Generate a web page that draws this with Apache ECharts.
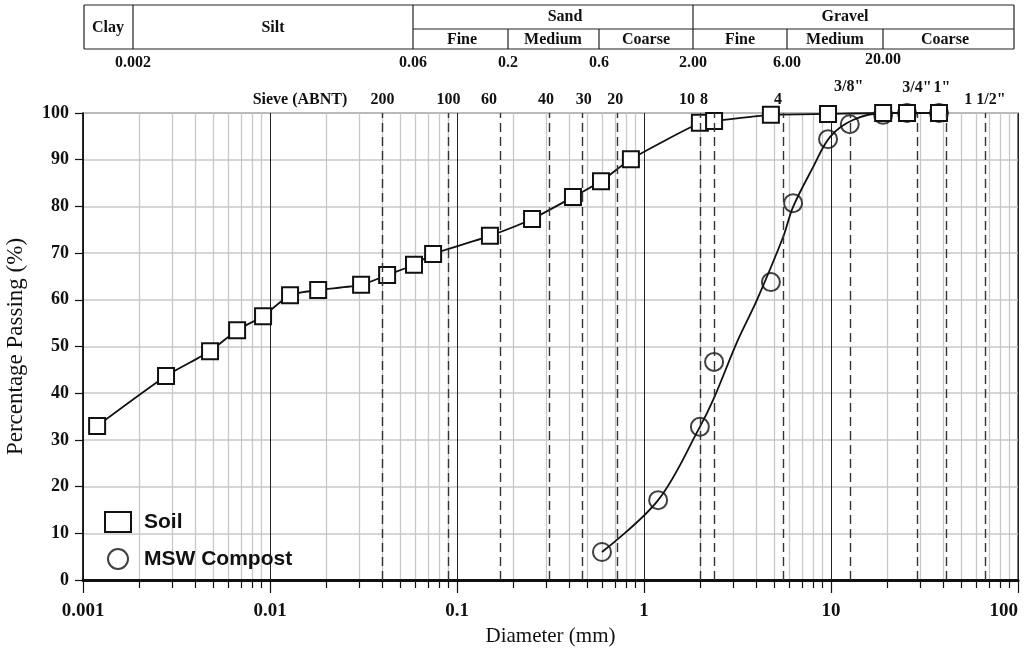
<!DOCTYPE html>
<html>
<head>
<meta charset="utf-8">
<script src="https://cdn.jsdelivr.net/npm/echarts@6/dist/echarts.min.js"></script>
<style>
  html, body { margin: 0; padding: 0; background: #fff; }
  #chart { width: 1030px; height: 654px; }
</style>
</head>
<body>
<div id="chart"></div>
<script>
// soil grain size curve
var soilSize = [0.00119, 0.00278, 0.00478, 0.00667, 0.00918, 0.0128, 0.0181, 0.0307, 0.0423, 0.0589, 0.0745,
    0.150, 0.252, 0.417, 0.589, 0.851, 1.99, 2.37, 4.77, 9.64, 19.0, 25.5, 37.8];
var soilPassing = [33.0, 43.7, 49.0, 53.5, 56.5, 61.0, 62.1, 63.2, 65.3, 67.5, 69.8,
    73.7, 77.3, 82.0, 85.4, 90.1, 97.9, 98.3, 99.6, 99.8, 100, 100, 100];

// compost measured points
var compostSize = [0.596, 1.19, 1.99, 2.37, 4.77, 6.27, 9.64, 12.6, 19.0, 25.5, 37.8];
var compostPassing = [6.0, 17.1, 32.8, 46.7, 63.8, 80.7, 94.4, 97.6, 99.6, 100, 100];

// compost fitted curve
var fitSize = [0.596, 1.19, 1.99, 2.34, 3.18, 4.02, 5.54, 6.27, 8.02, 9.89, 13.1, 19.0, 37.8];
var fitPassing = [6.0, 17.1, 32.8, 38.5, 51.4, 60.0, 73.4, 79.9, 88.4, 94.9, 98.5, 100, 100];

// sieve lines
var sieveLabels = ['200', '100', '60', '40', '30', '20', '10', '8', '4', '3/8"', '3/4"', '1"', '1 1/2"'];
var sieveSizes = [0.0383, 0.0906, 0.1655, 0.310, 0.466, 0.718, 1.99, 2.37, 5.54, 12.6, 28.8, 41.2, 66.6];
var sieveLabelOffsets = [[0, 0], [0, 0], [-11, 0], [-3, 0], [1, 0], [-2, 0], [-13, 0], [-10, 0], [-5, 0],
    [-1, -13], [0, -12], [-4, -12], [0, 0]];

var xTickLabels = ['0.001', '0.01', '0.1', '1', '10', '100'];
var yTicks = [0, 10, 20, 30, 40, 50, 60, 70, 80, 90, 100];

// classification table
var tableBounds = ['0.002', '0.06', '0.2', '0.6', '2.00', '6.00', '20.00'];
var tableBoundX = [133, 413, 508, 599, 693, 787, 883];

var SERIF = '"Liberation Serif", "Times New Roman", serif';
var SANS = '"Liberation Sans", Arial, sans-serif';

function zip(a, b) {
    return a.map(function (v, i) { return [v, b[i]]; });
}

var minorTicks = [];
[0.001, 0.01, 0.1, 1, 10].forEach(function (d) {
    for (var k = 2; k <= 9; k++) minorTicks.push(+(d * k).toPrecision(3));
});

var graphics = [];
function gline(x1, y1, x2, y2) {
    graphics.push({ type: 'line', silent: true, shape: { x1: x1, y1: y1, x2: x2, y2: y2 },
        style: { stroke: '#222', lineWidth: 1.2 } });
}
function gtext(t, x, y, size) {
    graphics.push({ type: 'text', silent: true, x: x, y: y,
        style: { text: t, fontFamily: SERIF, fontWeight: 'bold', fontSize: size || 16, fill: '#111',
            align: 'center', verticalAlign: 'middle' } });
}
gline(84, 5, 1014, 5);
gline(84, 49, 1014, 49);
gline(84, 5, 84, 49);
gline(1014, 5, 1014, 49);
gline(133, 5, 133, 49);
gline(413, 5, 413, 49);
gline(693, 5, 693, 49);
gline(413, 29, 1014, 29);
[508, 599, 787, 883].forEach(function (x) { gline(x, 29, x, 49); });
gtext('Clay', 108, 28);
gtext('Silt', 273, 28);
gtext('Sand', 565, 17);
gtext('Gravel', 845, 17);
gtext('Fine', 462, 40);
gtext('Medium', 553, 40);
gtext('Coarse', 646, 40);
gtext('Fine', 740, 40);
gtext('Medium', 835, 40);
gtext('Coarse', 945, 40);
tableBounds.forEach(function (t, i) {
    gtext(t, tableBoundX[i], i === 6 ? 60 : 63);
});
gtext('Sieve (ABNT)', 300, 100);

var myChart = echarts.init(document.getElementById('chart'));
var option = {
    backgroundColor: '#fff',
    animation: false,
    grid: {
        left: 83, right: 12, top: 113, bottom: 74, containLabel: false, outerBoundsMode: 'none',
        show: true, borderColor: '#222', borderWidth: 1.2
    },
    legend: {
        left: 99, top: 506, orient: 'vertical', itemWidth: 26, itemHeight: 20, itemGap: 15,
        data: [{ name: 'Soil', icon: 'rect' }, { name: 'MSW Compost', icon: 'circle' }],
        textStyle: { fontFamily: SANS, fontWeight: 'bold', fontSize: 21, color: '#111', padding: [0, 0, 0, 8] },
        itemStyle: { color: '#fff', borderColor: '#111', borderWidth: 2 }
    },
    xAxis: [
        {
            type: 'log', logBase: 10, min: 0.001, max: 100, position: 'bottom',
            name: 'Diameter (mm)', nameLocation: 'middle', nameGap: 45,
            nameTextStyle: { fontFamily: SERIF, fontSize: 21, color: '#111' },
            axisLine: { show: true, onZero: false, lineStyle: { color: '#111', width: 3 } },
            axisTick: { show: true, length: 13, lineStyle: { color: '#111', width: 1.2 } },
            axisLabel: {
                margin: 22, fontFamily: SERIF, fontWeight: 'bold', fontSize: 19, color: '#111',
                alignMaxLabel: 'right', hideOverlap: false,
                formatter: function (v, i) { return xTickLabels[i]; }
            },
            splitLine: { show: true, lineStyle: { color: '#222', width: 1 } }
        },
        {
            type: 'log', logBase: 10, min: 0.001, max: 100, position: 'bottom',
            axisLine: { show: false },
            axisTick: { show: true, length: 8, customValues: minorTicks, lineStyle: { color: '#111', width: 1.2 } },
            axisLabel: { show: false },
            splitLine: { show: true, lineStyle: { color: '#c8c8c8', width: 1.3 } }
        }
    ],
    yAxis: {
        type: 'value', min: 0, max: 100, interval: 10,
        name: 'Percentage Passing (%)', nameLocation: 'middle', nameGap: 56,
        nameTextStyle: { fontFamily: SERIF, fontSize: 23, color: '#111' },
        axisLine: { show: true, lineStyle: { color: '#111', width: 1.5 } },
        axisTick: { show: true, length: 8, lineStyle: { color: '#111', width: 1.2 } },
        axisLabel: {
            margin: 14, fontFamily: SERIF, fontWeight: 'bold', fontSize: 18, color: '#111',
            formatter: function (v) { return yTicks.indexOf(v) >= 0 ? String(v) : ''; }
        },
        splitLine: { show: true, lineStyle: { color: '#c8c8c8', width: 1.5 } }
    },
    series: [
        {
            name: 'sieves', type: 'line', data: [], z: 1, silent: true,
            markLine: {
                silent: true, symbol: 'none', animation: false,
                lineStyle: { type: [9, 5], color: '#333', width: 1.4 },
                label: {
                    show: true, position: 'end', distance: 5, formatter: '{b}',
                    fontFamily: SERIF, fontWeight: 'bold', fontSize: 16, color: '#111'
                },
                data: sieveSizes.map(function (v, i) {
                    return { name: sieveLabels[i], xAxis: v, label: { offset: sieveLabelOffsets[i] } };
                })
            }
        },
        {
            name: 'compostFit', type: 'line', data: zip(fitSize, fitPassing), z: 2,
            symbol: 'none', smooth: 0.35,
            lineStyle: { color: '#111', width: 1.8 }
        },
        {
            name: 'MSW Compost', type: 'scatter', data: zip(compostSize, compostPassing), z: 3,
            symbol: 'circle', symbolSize: 18,
            itemStyle: { color: 'rgba(0,0,0,0)', borderColor: '#111', borderWidth: 2 }
        },
        {
            name: 'Soil', type: 'line', data: zip(soilSize, soilPassing), z: 4,
            symbol: 'rect', symbolSize: 16, smooth: 0.2,
            lineStyle: { color: '#111', width: 1.8 },
            itemStyle: { color: '#fff', borderColor: '#111', borderWidth: 2 }
        }
    ],
    graphic: graphics
};
myChart.setOption(option, true);
</script>
</body>
</html>
